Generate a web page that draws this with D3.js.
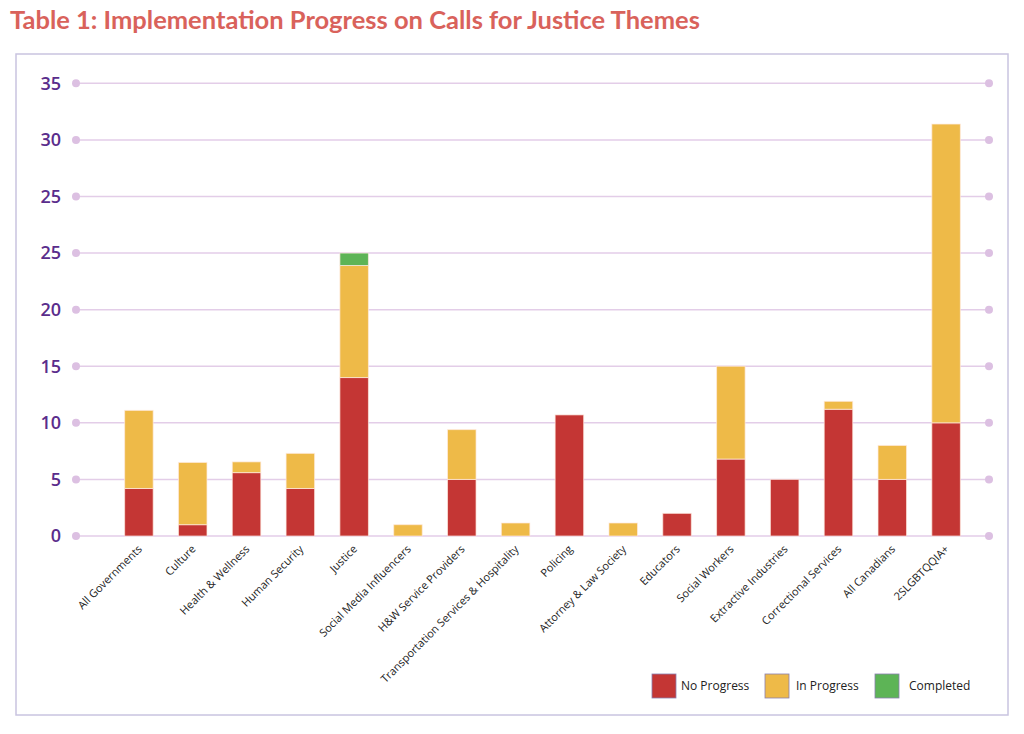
<!DOCTYPE html>
<html>
<head>
<meta charset="utf-8">
<script src="https://cdn.jsdelivr.net/npm/d3@7"></script>
<style>
  html, body { margin: 0; padding: 0; background: #fff; }
  svg { display: block; }
</style>
</head>
<body>
<svg id="chart" width="1024" height="734"></svg>
<script>
const categories = ["All Governments", "Culture", "Health & Wellness", "Human Security", "Justice",
  "Social Media Influencers", "H&W Service Providers", "Transportation Services & Hospitality",
  "Policing", "Attorney & Law Society", "Educators", "Social Workers", "Extractive Industries",
  "Correctional Services", "All Canadians", "2SLGBTQQIA+"];
const noProgress = [4.2, 1.0, 5.6, 4.2, 14.0, 0, 5.0, 0, 10.7, 0, 2.0, 6.8, 5.0, 11.2, 5.0, 10.0];
const inProgress = [6.9, 5.5, 0.95, 3.1, 9.9, 1.0, 4.4, 1.15, 0, 1.15, 0, 8.2, 0, 0.7, 3.0, 26.4];
const completed  = [0, 0, 0, 0, 1.1, 0, 0, 0, 0, 0, 0, 0, 0, 0, 0, 0];
const seriesNames = ["No Progress", "In Progress", "Completed"];
const tickValues = [0, 5, 10, 15, 20, 25, 30, 35, 40];
const tickLabels = ["0", "5", "10", "15", "20", "25", "25", "30", "35"];
const colors = ["#c43634", "#eeba48", "#5db456"];

const svg = d3.select("#chart");

svg.append("text")
  .attr("x", 10).attr("y", 29)
  .attr("fill", "#d9625b")
  .attr("font-family", "Lato, 'Open Sans', sans-serif")
  .attr("font-weight", "700")
  .attr("font-size", "25.5px")
  .text("Table 1: Implementation Progress on Calls for Justice Themes");

svg.append("rect")
  .attr("x", 16).attr("y", 54).attr("width", 992).attr("height", 661)
  .attr("fill", "none").attr("stroke", "#c9c4e0").attr("stroke-width", 1.5);

const y = d3.scaleLinear().domain([0, 40]).range([536, 83.3]);
const x = d3.scaleBand().domain(categories).range([112, 973]).paddingInner(0.47).paddingOuter(0.235);

const gridG = svg.append("g");
tickValues.forEach((v, i) => {
  gridG.append("line")
    .attr("x1", 76).attr("x2", 989).attr("y1", y(v)).attr("y2", y(v))
    .attr("stroke", "#e3cde8").attr("stroke-width", 1.5);
  gridG.append("circle").attr("cx", 76).attr("cy", y(v)).attr("r", 4).attr("fill", "#dcc0e2");
  gridG.append("circle").attr("cx", 989).attr("cy", y(v)).attr("r", 4).attr("fill", "#dcc0e2");
});

const yAxis = d3.axisLeft(y).tickValues(tickValues).tickFormat((d, i) => tickLabels[i]).tickSize(0).tickPadding(0);
const yg = svg.append("g").attr("transform", "translate(61,0)").call(yAxis);
yg.select(".domain").remove();
yg.selectAll("text")
  .attr("fill", "#5a2d8c")
  .attr("font-family", "'Open Sans', sans-serif")
  .attr("font-weight", "600")
  .attr("font-size", "18px");

const table = categories.map((c, i) => ({ cat: c, "No Progress": noProgress[i], "In Progress": inProgress[i], "Completed": completed[i] }));
const stack = d3.stack().keys(seriesNames)(table);

svg.append("g").selectAll("g").data(stack).join("g")
  .attr("fill", (d, i) => colors[i])
  .selectAll("rect").data(d => d.filter(s => s[1] - s[0] > 0)).join("rect")
  .attr("x", d => x(d.data.cat))
  .attr("width", x.bandwidth())
  .attr("y", d => y(d[1]))
  .attr("height", d => y(d[0]) - y(d[1]))
  .attr("stroke", "rgba(255,235,225,0.7)")
  .attr("stroke-width", 1);

const xAxis = d3.axisBottom(x).tickSize(0).tickPadding(0);
const xg = svg.append("g").attr("transform", "translate(0,544)").call(xAxis);
xg.select(".domain").remove();
xg.selectAll("text")
  .attr("text-anchor", "end")
  .attr("dy", "0.35em")
  .attr("transform", "translate(1,3) rotate(-45)")
  .attr("fill", "#222")
  .attr("font-family", "'Open Sans', sans-serif")
  .attr("font-size", "11px");

const legendX = [652, 765, 875];
const legendTextX = [681, 796, 909];
const lg = svg.append("g");
seriesNames.forEach((n, i) => {
  lg.append("rect").attr("x", legendX[i]).attr("y", 674).attr("width", 24).attr("height", 24)
    .attr("fill", colors[i]).attr("stroke", "#8a7fb0").attr("stroke-width", 0.8);
  lg.append("text").attr("x", legendTextX[i]).attr("y", 686).attr("dy", "0.35em")
    .attr("fill", "#222").attr("font-family", "'Open Sans', sans-serif").attr("font-size", "12px")
    .text(n);
});
</script>
</body>
</html>
